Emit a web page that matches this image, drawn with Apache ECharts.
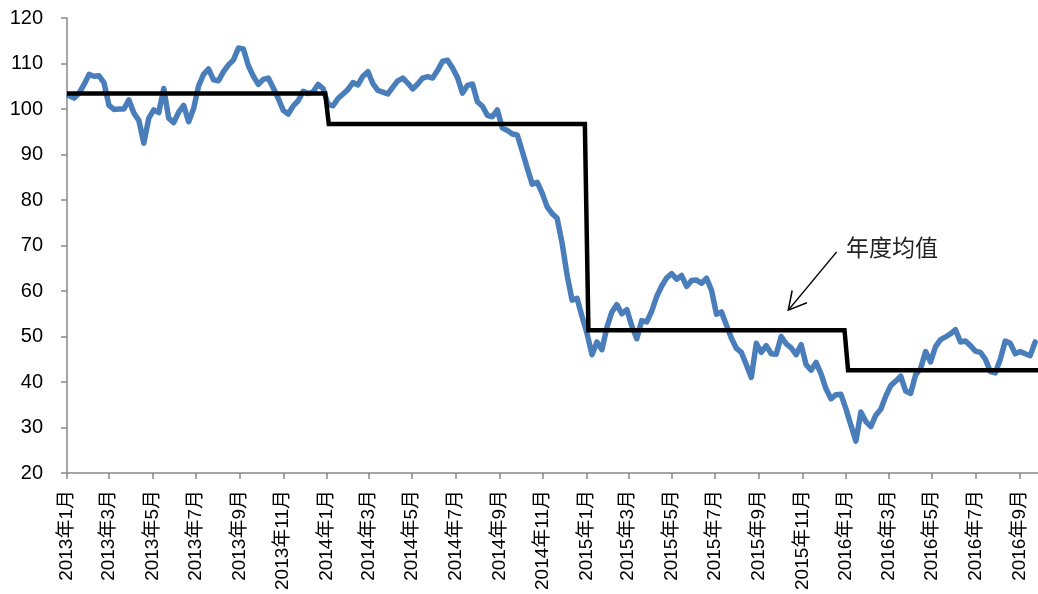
<!DOCTYPE html>
<html>
<head>
<meta charset="utf-8">
<script src="https://cdn.jsdelivr.net/npm/echarts@6/dist/echarts.min.js"></script>
<style>
  html, body { margin: 0; padding: 0; background: #fff; }
  #chart { width: 1038px; height: 594px; }
</style>
</head>
<body>
<div id="chart"></div>
<script>
// Weekly closing prices, one value per week starting on the first Friday of 2013
const firstWeek = '2013-01-04';
const weeklyPrices = [
  102.9, 102.4, 103.5, 105.4, 107.6, 107.2, 107.3, 105.8, 100.8, 99.9,
  100.0, 100.0, 102.0, 99.1, 97.5, 92.5, 98.0, 99.8, 99.2, 104.5,
  98.0, 97.0, 99.3, 100.8, 97.2, 100.1, 105.1, 107.6, 108.8, 106.4,
  106.2, 108.2, 109.7, 110.8, 113.4, 113.2, 109.5, 107.2, 105.4, 106.5,
  106.8, 104.6, 102.3, 99.7, 98.9, 100.7, 101.8, 103.9, 103.4, 103.8,
  105.4, 104.5, 101.0, 100.7, 102.3, 103.3, 104.3, 105.8, 105.3, 107.2,
  108.2, 105.6, 104.1, 103.7, 103.3, 104.8, 106.2, 106.8, 105.7, 104.4,
  105.5, 106.8, 107.1, 106.8, 108.5, 110.5, 110.7, 109.0, 106.9, 103.5,
  105.2, 105.5, 101.6, 100.6, 98.6, 98.3, 99.8, 95.8, 95.3, 94.5,
  94.3, 90.7, 87.0, 83.5, 83.9, 81.5, 78.5, 77.0, 76.0, 70.5,
  63.5, 58.0, 58.4, 54.4, 50.7, 46.0, 48.8, 47.1, 52.0, 55.4,
  57.0, 55.0, 55.9, 52.3, 49.5, 53.5, 53.2, 55.6, 58.8, 61.1,
  62.9, 63.8, 62.6, 63.4, 61.0, 62.3, 62.4, 61.7, 62.8, 60.2,
  54.9, 55.4, 52.5, 49.6, 47.4, 46.5, 43.8, 41.0, 48.5, 46.5,
  48.0, 46.2, 46.1, 50.0, 48.4, 47.5, 46.0, 48.2, 43.8, 42.6,
  44.3, 41.8, 38.5, 36.3, 37.2, 37.3, 34.1, 30.5, 27.0, 33.4,
  31.3, 30.2, 32.7, 34.0, 36.9, 39.2, 40.2, 41.3, 38.0, 37.5,
  41.6, 43.0, 46.7, 44.4, 47.8, 49.3, 49.9, 50.6, 51.5, 48.8,
  49.0, 48.0, 46.8, 46.5, 45.0, 42.3, 42.0, 45.0, 49.0, 48.5,
  46.2, 46.7, 46.2, 45.8, 48.8
];

// Annual averages
const years = [2013, 2014, 2015, 2016];
const yearMeans = [103.4, 96.7, 51.4, 42.6];

// Axis ticks
const tickDates = [
  '2013-01-01', '2013-03-01', '2013-05-01', '2013-07-01', '2013-09-01', '2013-11-01',
  '2014-01-01', '2014-03-01', '2014-05-01', '2014-07-01', '2014-09-01', '2014-11-01',
  '2015-01-01', '2015-03-01', '2015-05-01', '2015-07-01', '2015-09-01', '2015-11-01',
  '2016-01-01', '2016-03-01', '2016-05-01', '2016-07-01', '2016-09-01'
];
const tickLabels = [
  '2013年1月', '2013年3月', '2013年5月', '2013年7月', '2013年9月', '2013年11月',
  '2014年1月', '2014年3月', '2014年5月', '2014年7月', '2014年9月', '2014年11月',
  '2015年1月', '2015年3月', '2015年5月', '2015年7月', '2015年9月', '2015年11月',
  '2016年1月', '2016年3月', '2016年5月', '2016年7月', '2016年9月'
];
const yTicks = { min: 20, max: 120, interval: 10 };
const annotationText = '年度均值';

// Dates are placed on a day-count axis starting at 2013-01-01
const DAY0 = Date.UTC(2013, 0, 1);
function dayOf(s) {
  const p = s.split('-').map(Number);
  return (Date.UTC(p[0], p[1] - 1, p[2]) - DAY0) / 86400000;
}

const start = dayOf(firstWeek);
const priceData = weeklyPrices.map((v, i) => [start + 7 * i, v]);

// Step line: flat at each year's average, dropping at the turn of the year
const meanData = [];
years.forEach((y, i) => {
  const from = i === 0 ? dayOf(y + '-01-01') : dayOf(y + '-01-04');
  const to = i === years.length - 1 ? dayOf((y + 1) + '-03-01') : dayOf(y + '-12-30');
  meanData.push([from, yearMeans[i]], [to, yearMeans[i]]);
});

const tickDays = tickDates.map(dayOf);
const labelByDay = {};
tickDays.forEach((d, i) => { labelByDay[d] = tickLabels[i]; });

const axisColor = '#898989';
const chart = echarts.init(document.getElementById('chart'));
chart.setOption({
  animation: false,
  backgroundColor: '#fff',
  grid: { left: 67, right: 0, top: 18, bottom: 121, containLabel: false },
  xAxis: {
    type: 'value',
    min: 0,
    max: 1365,
    axisLine: { lineStyle: { color: axisColor, width: 1.5 } },
    axisTick: { customValues: tickDays, length: 6, lineStyle: { color: axisColor, width: 1.5 } },
    axisLabel: {
      customValues: tickDays,
      formatter: v => labelByDay[v] || '',
      rotate: 90,
      margin: 17,
      color: '#000',
      fontSize: 19,
      fontFamily: '"Liberation Sans", "Noto Sans CJK SC", sans-serif'
    },
    splitLine: { show: false }
  },
  yAxis: {
    type: 'value',
    min: yTicks.min,
    max: yTicks.max,
    interval: yTicks.interval,
    axisLine: { show: true, lineStyle: { color: axisColor, width: 1.5 } },
    axisTick: { show: true, length: 6, lineStyle: { color: axisColor, width: 1.5 } },
    axisLabel: {
      margin: 24,
      color: '#000',
      fontSize: 20,
      fontFamily: '"Liberation Sans", sans-serif'
    },
    splitLine: { show: false }
  },
  series: [
    {
      name: 'price',
      type: 'line',
      data: priceData,
      showSymbol: false,
      smooth: false,
      lineStyle: { color: '#4a7ebb', width: 5.5, join: 'round', cap: 'round' },
      z: 2
    },
    {
      name: annotationText,
      type: 'line',
      data: meanData,
      showSymbol: false,
      lineStyle: { color: '#000', width: 4.5, join: 'miter' },
      z: 3
    }
  ]
});

// Label with a pointer arrow, anchored in data coordinates
const tip = chart.convertToPixel({ gridIndex: 0 }, [1014, 55.8]);
const tail = chart.convertToPixel({ gridIndex: 0 }, [1082, 68.6]);
const textPos = chart.convertToPixel({ gridIndex: 0 }, [1095, 69.6]);
const ang = Math.atan2(tail[1] - tip[1], tail[0] - tip[0]);
const armLen = 20, spread = 0.5;
const arm1 = [tip[0] + armLen * Math.cos(ang - spread), tip[1] + armLen * Math.sin(ang - spread)];
const arm2 = [tip[0] + armLen * Math.cos(ang + spread), tip[1] + armLen * Math.sin(ang + spread)];

chart.setOption({
  graphic: [
    {
      type: 'polyline',
      shape: { points: [tail, tip] },
      style: { stroke: '#000', lineWidth: 1.5, fill: null }
    },
    {
      type: 'polyline',
      shape: { points: [arm1, tip, arm2] },
      style: { stroke: '#000', lineWidth: 1.5, fill: null }
    },
    {
      type: 'text',
      x: textPos[0],
      y: textPos[1],
      style: {
        text: annotationText,
        fill: '#222',
        font: '23px "Noto Sans CJK SC", sans-serif',
        textVerticalAlign: 'middle',
        textAlign: 'left'
      }
    }
  ]
});
</script>
</body>
</html>
